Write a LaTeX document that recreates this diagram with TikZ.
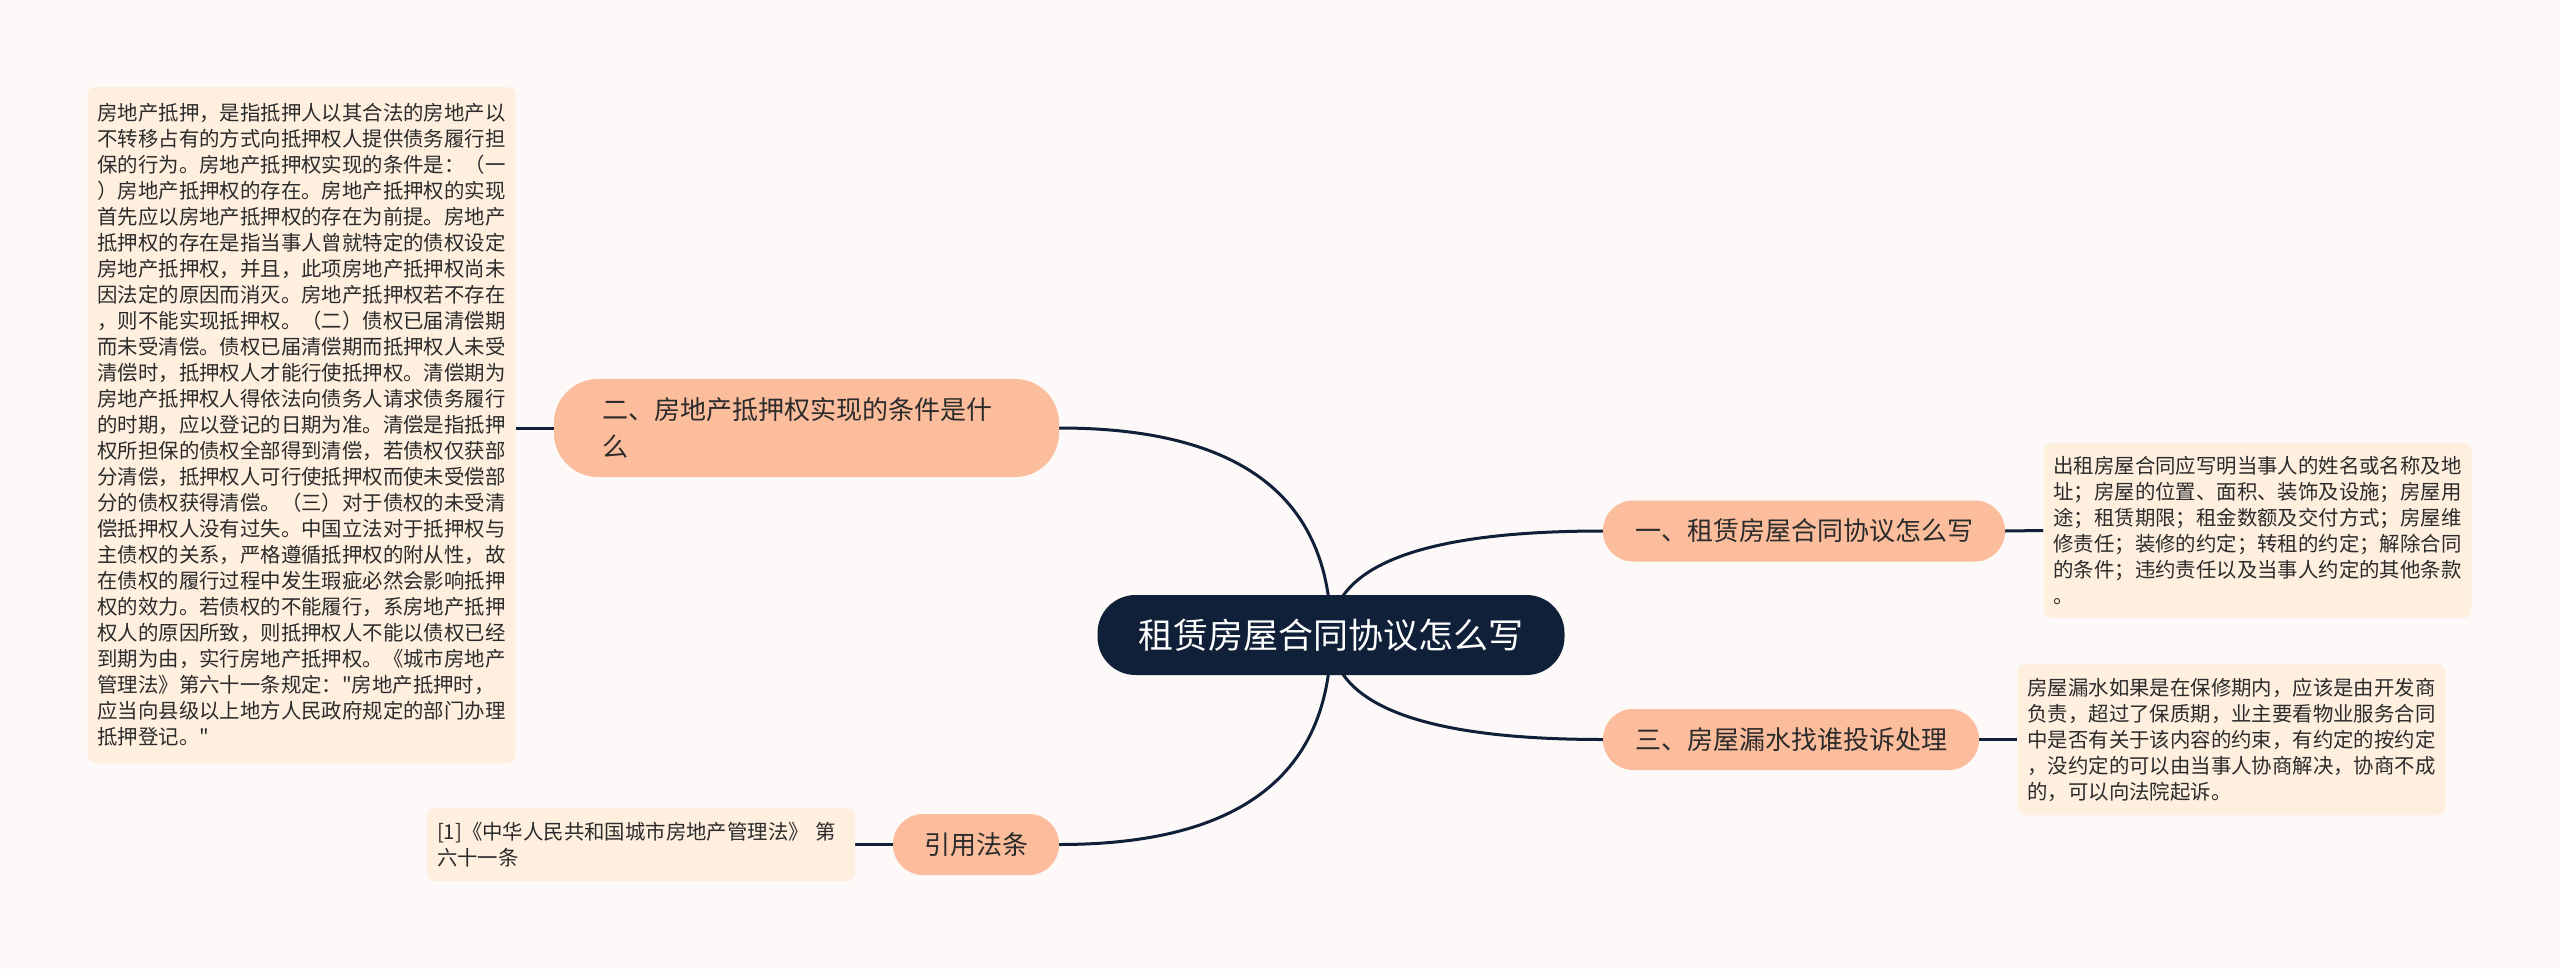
\documentclass[tikz,border=0pt]{standalone}
\usepackage{fontspec}
\usepackage{tikz}
\usetikzlibrary{calc,backgrounds}
\newfontfamily\cjk{Noto Sans CJK SC}
\definecolor{pagebg}{RGB}{252,249,248}
\definecolor{navy}{RGB}{16,32,56}
\definecolor{peach}{RGB}{252,189,157}
\definecolor{cream}{RGB}{254,239,223}
\definecolor{ink}{RGB}{43,43,43}
\def\twig(#1)(#2){\coordinate (k) at (#1 |- #2); \draw[link] (#1) .. controls ($(#1)!2/3!(k)$) and ($(#2)!2/3!(k)$) .. (#2);}
\tikzset{
  root/.style={fill=navy, text=white, rounded corners=38pt, minimum width=467pt, minimum height=80pt, inner sep=0pt, font=\cjk\fontsize{35}{42}\selectfont},
  topic/.style={fill=peach, text=ink, rounded corners=30pt, minimum height=61pt, inner sep=0pt, font=\cjk\fontsize{26}{37}\selectfont},
  leaf/.style={fill=cream, text=ink, rounded corners=8pt, inner xsep=10pt, inner ysep=0pt, text width=408pt, align=left, font=\cjk\fontsize{20.4}{26}\selectfont},
  link/.style={draw=navy, line width=3pt}
}

\begin{document}
\begin{tikzpicture}[x=1pt, y=-1pt]
			%%%%% START %%%%%
			
			\useasboundingbox (0, 0) rectangle (2560, 969);
			
			\node[root] (root) at (1331, 635) {租赁房屋合同协议怎么写};
			
			\node[topic, minimum width=402pt] (t1) at (1804, 531) {一、租赁房屋合同协议怎么写};
			\node[topic, minimum width=505pt, minimum height=98pt, rounded corners=44pt, text width=409pt, align=left] (t2) at (806.5, 428) {二、房地产抵押权实现的条件是什\\么};
			\node[topic, minimum width=376pt] (t3) at (1791, 739.5) {三、房屋漏水找谁投诉处理};
			\node[topic, minimum width=166pt] (t4) at (976, 844.5) {引用法条};
			
			\node[leaf, minimum height=175pt] (l1) at (2257.5, 530.5) {出租房屋合同应写明当事人的姓名或名称及地\\址；房屋的位置、面积、装饰及设施；房屋用\\途；租赁期限；租金数额及交付方式；房屋维\\修责任；装修的约定；转租的约定；解除合同\\的条件；违约责任以及当事人约定的其他条款\\。};
			\node[leaf, minimum height=676pt] (l2) at (301.5, 425) {房地产抵押，是指抵押人以其合法的房地产以\\不转移占有的方式向抵押权人提供债务履行担\\保的行为。房地产抵押权实现的条件是：（一\\）房地产抵押权的存在。房地产抵押权的实现\\首先应以房地产抵押权的存在为前提。房地产\\抵押权的存在是指当事人曾就特定的债权设定\\房地产抵押权，并且，此项房地产抵押权尚未\\因法定的原因而消灭。房地产抵押权若不存在\\，则不能实现抵押权。（二）债权已届清偿期\\而未受清偿。债权已届清偿期而抵押权人未受\\清偿时，抵押权人才能行使抵押权。清偿期为\\房地产抵押权人得依法向债务人请求债务履行\\的时期，应以登记的日期为准。清偿是指抵押\\权所担保的债权全部得到清偿，若债权仅获部\\分清偿，抵押权人可行使抵押权而使未受偿部\\分的债权获得清偿。（三）对于债权的未受清\\偿抵押权人没有过失。中国立法对于抵押权与\\主债权的关系，严格遵循抵押权的附从性，故\\在债权的履行过程中发生瑕疵必然会影响抵押\\权的效力。若债权的不能履行，系房地产抵押\\权人的原因所致，则抵押权人不能以债权已经\\到期为由，实行房地产抵押权。《城市房地产\\管理法》第六十一条规定："房地产抵押时，\\应当向县级以上地方人民政府规定的部门办理\\抵押登记。"};
			\node[leaf, minimum height=151pt] (l3) at (2231.5, 739.5) {房屋漏水如果是在保修期内，应该是由开发商\\负责，超过了保质期，业主要看物业服务合同\\中是否有关于该内容的约束，有约定的按约定\\，没约定的可以由当事人协商解决，协商不成\\的，可以向法院起诉。};
			\node[leaf, minimum height=73pt] (l4) at (641, 844.5) {[1]《中华人民共和国城市房地产管理法》 第\\六十一条};
			
			\begin{pgfonlayer}{background}
			\fill[pagebg] (0, 0) rectangle (2560, 969);
			
			\twig(root.center)(t1.west)
			\twig(root.center)(t2.east)
			\twig(root.center)(t3.west)
			\twig(root.center)(t4.east)
			
			\draw[link] (t1.east) -- (l1.west);
			\draw[link] (t2.west) -- (t2.west -| l2.east);
			\draw[link] (t3.east) -- (l3.west);
			\draw[link] (t4.west) -- (l4.east);
			\end{pgfonlayer}
			
			%%%%% END %%%%%
\end{tikzpicture}
\end{document}
